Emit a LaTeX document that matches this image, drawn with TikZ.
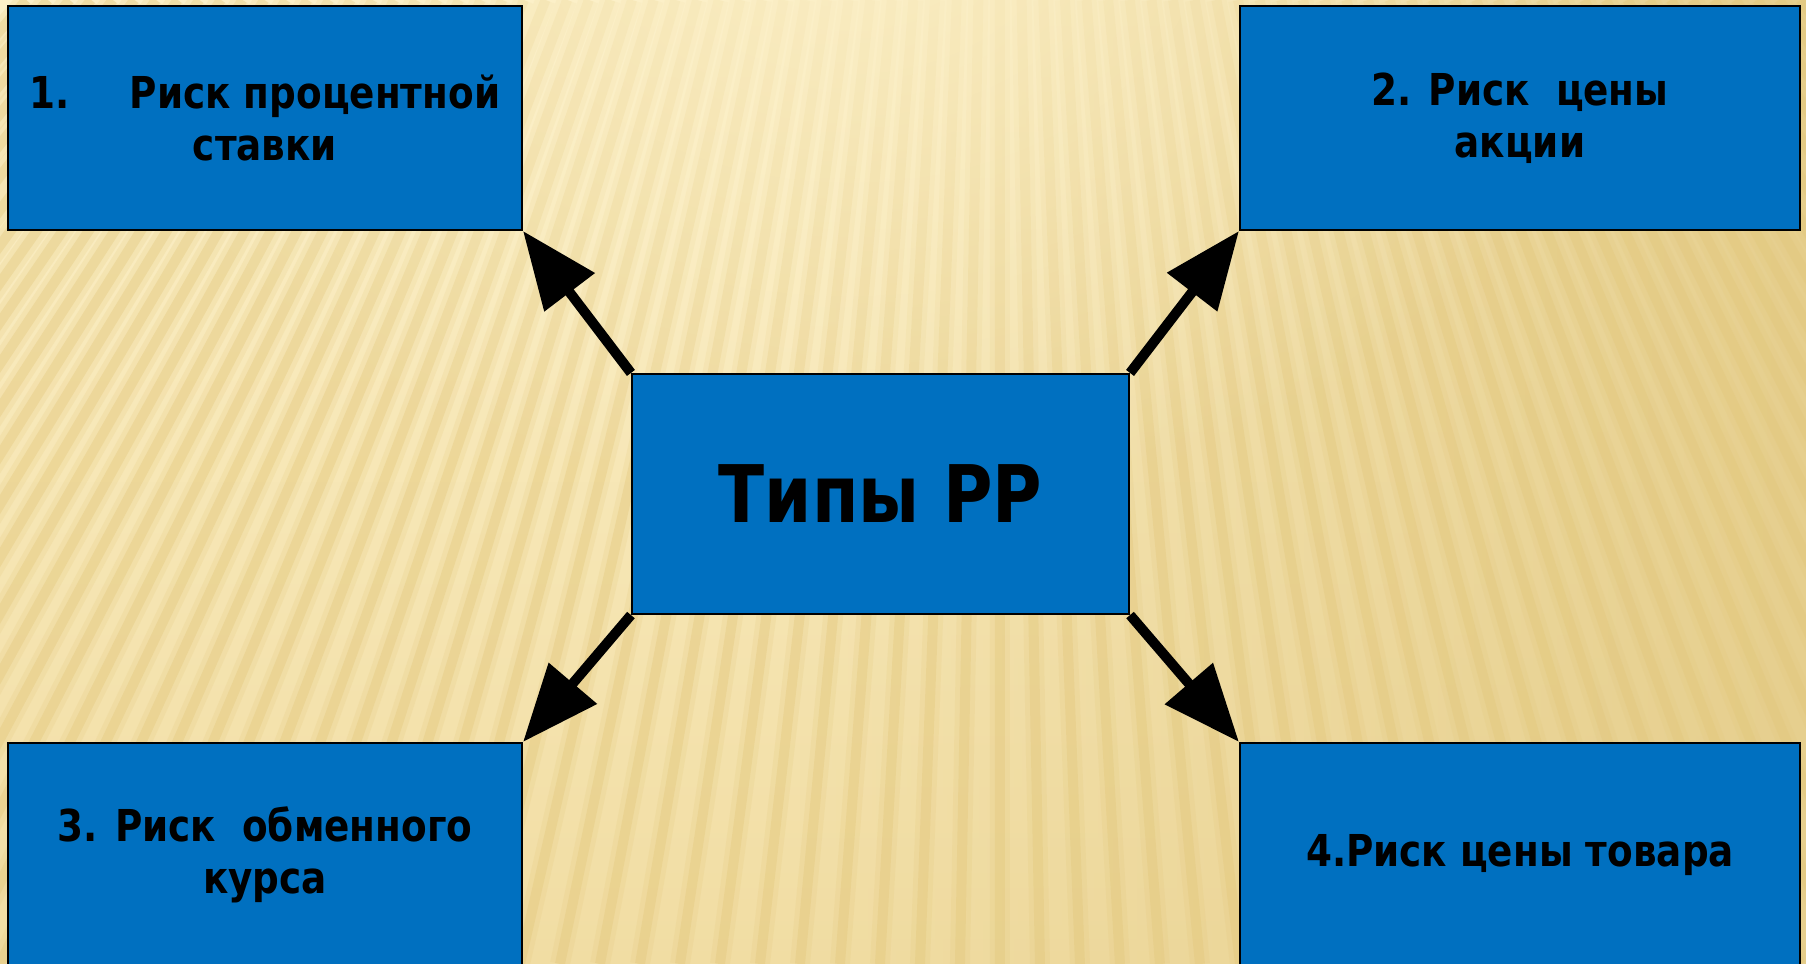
\documentclass[tikz,border=0pt]{standalone}
\usepackage{fontspec}
\setmainfont{DejaVu Sans}[FakeStretch=0.85]
\usetikzlibrary{arrows.meta,fadings}
\definecolor{boxblue}{HTML}{0070C0}
\definecolor{bgtop}{HTML}{FCF0C8}
\definecolor{bgbottom}{HTML}{F1DDA3}
\definecolor{bgdark}{HTML}{E6CF8E}
\definecolor{stripe}{HTML}{E2C679}
\tikzfading[name=glow, inner color=transparent!0, outer color=transparent!100]
\tikzfading[name=fade left, left color=transparent!100, right color=transparent!0]

\begin{document}
\begin{tikzpicture}[
    box/.style={draw=black, line width=0.6pt, fill=boxblue, align=center, inner sep=0pt,
        minimum height=2.24cm, font=\bfseries\fontsize{12.5}{14.8}\selectfont},
    arr/.style={-{Triangle[length=0.77cm,width=0.61cm]}, line width=0.1cm}]
    \useasboundingbox (0,0) rectangle (18.06,9.64);
    \begin{scope}
        \clip (0,0) rectangle (18.06,9.64);
        \shade [top color=bgtop, bottom color=bgbottom] (0,0) rectangle (18.06,9.64);
        \fill [bgdark, path fading=fade left] (8,0) rectangle (18.06,9.64);
        \foreach \x in {-8,-7.6,...,28} {
            \draw [stripe, line width=0.2cm, opacity=0.18] (\x,0) -- ({10+(\x-10)*0.541},9.64);
            \draw [stripe, line width=0.1cm, opacity=0.35] (\x,0) -- ({10+(\x-10)*0.541},9.64);
        }
        \fill [bgtop, path fading=glow, fill opacity=0.9] (8.5,10.5) ellipse (8 and 6);
    \end{scope}

    \node [box, minimum width=5.14cm] (rate) at (2.65,8.46) {1.\hspace{0.6cm}Риск процентной\\ставки};
    \node [box, minimum width=5.6cm] (stock) at (15.2,8.46) {2. Риск~ цены\\акции};
    \node [box, minimum width=4.97cm, minimum height=2.4cm, font=\bfseries\fontsize{22.6}{27}\selectfont] (types) at (8.805,4.70) {Типы РР};
    \node [box, minimum width=5.14cm] (fx) at (2.65,1.09) {3. Риск~ обменного\\курса};
    \node [box, minimum width=5.6cm] (goods) at (15.2,1.09) {4.Риск цены товара};

    \draw [arr] (types.north west) -- (rate.south east);
    \draw [arr] (types.north east) -- (stock.south west);
    \draw [arr] (types.south west) -- (fx.north east);
    \draw [arr] (types.south east) -- (goods.north west);
\end{tikzpicture}
\end{document}
